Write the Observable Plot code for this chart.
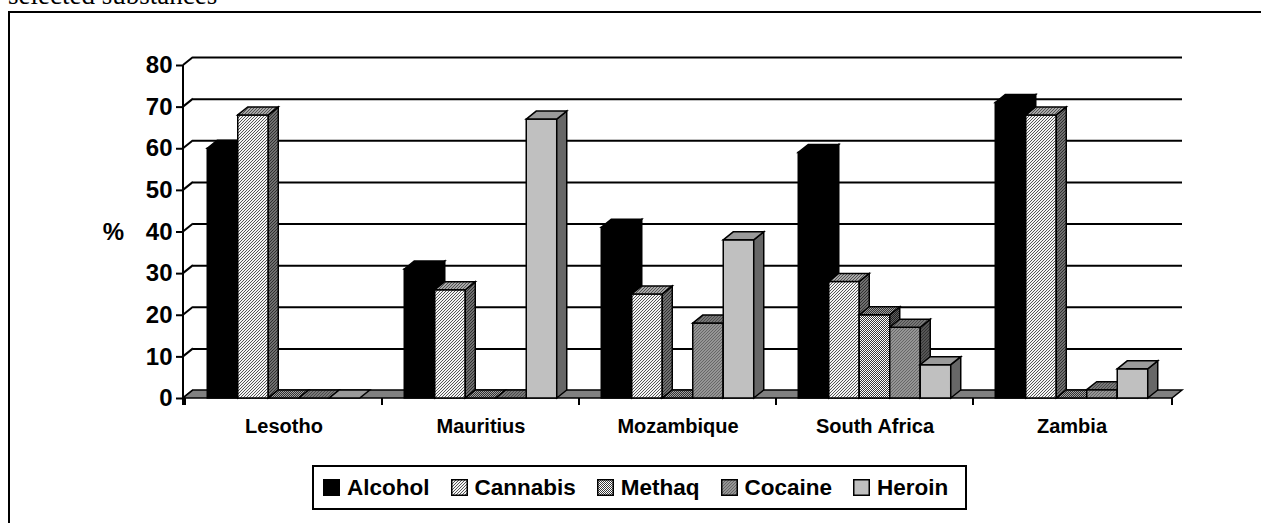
<!DOCTYPE html>
<html><head><meta charset="utf-8">
<script src="https://cdn.jsdelivr.net/npm/d3@7"></script>
<script src="https://cdn.jsdelivr.net/npm/@observablehq/plot@0.6"></script>
<style>
html,body{margin:0;padding:0;background:#fff;overflow:hidden;width:1261px;height:523px;position:relative;}
#title{position:absolute;left:8px;top:-18px;font-family:"Liberation Serif","Times New Roman",serif;font-size:27px;line-height:27px;white-space:nowrap;color:#000;}
#box{position:absolute;left:8px;top:11px;width:1300px;height:600px;border:2px solid #000;}
#chart svg{display:block;}
#legend{position:absolute;left:302px;top:452px;width:655px;height:45px;box-sizing:border-box;border:2px solid #000;display:flex;align-items:center;padding-left:9px;gap:21px;font-family:"Liberation Sans",Arial,sans-serif;font-weight:bold;font-size:22.5px;color:#000;white-space:nowrap;}
#legend .item{display:flex;align-items:center;}
#legend svg{margin-right:7px;display:block;}
</style></head>
<body>
<svg width="0" height="0" style="position:absolute;left:0;top:0">
<defs>
  <pattern id="can-front" width="3" height="3" patternUnits="userSpaceOnUse">
    <rect width="3" height="3" fill="#f4f4f4"/>
    <path d="M-1,1 l2,-2 M0,3 l3,-3 M2,4 l2,-2" stroke="#555555" stroke-width="1"/>
  </pattern>
  <pattern id="can-top" width="3" height="3" patternUnits="userSpaceOnUse">
    <rect width="3" height="3" fill="#a8a8a8"/>
    <path d="M-1,1 l2,-2 M0,3 l3,-3 M2,4 l2,-2" stroke="#505050" stroke-width="1"/>
  </pattern>
  <pattern id="can-side" width="3" height="3" patternUnits="userSpaceOnUse">
    <rect width="3" height="3" fill="#707070"/>
    <path d="M-1,1 l2,-2 M0,3 l3,-3 M2,4 l2,-2" stroke="#303030" stroke-width="1"/>
  </pattern>
  <pattern id="met-front" width="2" height="2" patternUnits="userSpaceOnUse">
    <rect width="2" height="2" fill="#ffffff"/>
    <rect width="1" height="1" fill="#3a3a3a"/>
    <rect x="1" y="1" width="1" height="1" fill="#3a3a3a"/>
  </pattern>
  <pattern id="met-top" width="2" height="2" patternUnits="userSpaceOnUse">
    <rect width="2" height="2" fill="#a0a0a0"/>
    <rect width="1" height="1" fill="#303030"/>
    <rect x="1" y="1" width="1" height="1" fill="#303030"/>
  </pattern>
  <pattern id="met-side" width="2" height="2" patternUnits="userSpaceOnUse">
    <rect width="2" height="2" fill="#606060"/>
    <rect width="1" height="1" fill="#202020"/>
    <rect x="1" y="1" width="1" height="1" fill="#202020"/>
  </pattern>
  <pattern id="coc-front" width="3" height="3" patternUnits="userSpaceOnUse">
    <rect width="3" height="3" fill="#959595"/>
    <path d="M-1,1 l2,-2 M0,3 l3,-3 M2,4 l2,-2" stroke="#666666" stroke-width="1"/>
  </pattern>
  <pattern id="coc-top" width="3" height="3" patternUnits="userSpaceOnUse">
    <rect width="3" height="3" fill="#777777"/>
    <path d="M-1,1 l2,-2 M0,3 l3,-3 M2,4 l2,-2" stroke="#4a4a4a" stroke-width="1"/>
  </pattern>
  <pattern id="coc-side" width="3" height="3" patternUnits="userSpaceOnUse">
    <rect width="3" height="3" fill="#555555"/>
    <path d="M-1,1 l2,-2 M0,3 l3,-3 M2,4 l2,-2" stroke="#333333" stroke-width="1"/>
  </pattern>
</defs>
</svg>
<div id="title">selected substances</div>
<div id="box">
  <div id="chart"></div>
  <div id="legend"></div>
</div>
<script>
// ---- data ----
const categories = ["Lesotho", "Mauritius", "Mozambique", "South Africa", "Zambia"];
const series = ["Alcohol", "Cannabis", "Methaq", "Cocaine", "Heroin"];
const alcohol  = [60, 31, 41, 59, 71];
const cannabis = [68, 26, 25, 28, 68];
const methaq   = [0, 0, 0, 20, 0];
const cocaine  = [0, 0, 18, 17, 2];
const heroin   = [0, 67, 38, 8, 7];
const yTicks = [0, 10, 20, 30, 40, 50, 60, 70, 80];
const axisLabel = "%";

// ---- styles ----
const faces = {
  Alcohol:  {front: "#000000", top: "#000000", side: "#000000"},
  Cannabis: {front: "url(#can-front)", top: "url(#can-top)", side: "url(#can-side)"},
  Methaq:   {front: "url(#met-front)", top: "url(#met-top)", side: "url(#met-side)"},
  Cocaine:  {front: "url(#coc-front)", top: "url(#coc-top)", side: "url(#coc-side)"},
  Heroin:   {front: "#c0c0c0", top: "#9a9a9a", side: "#676767"}
};
const DX = 10, DY = 8; // 3D depth offset

const seriesValues = [alcohol, cannabis, methaq, cocaine, heroin];
const table = [];
categories.forEach((c, ci) => series.forEach((s, si) => table.push({category: c, series: s, value: seriesValues[si][ci]})));

function chart3d(index, scales, values, dims) {
  const x = scales.x, y = scales.y;
  const bw = typeof x.bandwidth === "function" ? x.bandwidth() : scales.scales.x.bandwidth;
  const sub = d3.scaleBand().domain(series).range([0, bw]).paddingInner(0).paddingOuter(0.73);
  const w = sub.bandwidth();
  const x0 = dims.marginLeft, x1 = dims.width - dims.marginRight;
  const y0 = y(0);
  const g = d3.create("svg:g").attr("stroke", "#000").attr("stroke-linejoin", "miter");
  // left wall diagonals
  g.append("g").selectAll("line").data(yTicks).join("line")
    .attr("x1", x0).attr("y1", d => y(d)).attr("x2", x0 + DX).attr("y2", d => y(d) - DY)
    .attr("stroke-width", 2);
  // floor
  g.append("polygon")
    .attr("points", [[x0, y0], [x0 + DX, y0 - DY], [x1 + DX, y0 - DY], [x1, y0]].map(p => p.join(",")).join(" "))
    .attr("fill", "#808080").attr("stroke-width", 1.5);
  // bars
  const bars = g.append("g").attr("stroke-width", 1.5);
  for (const d of table) {
    const bx = x(d.category) + sub(d.series);
    const top = y(d.value);
    const f = faces[d.series];
    if (d.value > 0) {
      bars.append("rect").attr("x", bx).attr("y", top).attr("width", w).attr("height", y0 - top).attr("fill", f.front);
      bars.append("polygon")
        .attr("points", [[bx + w, y0], [bx + w + DX, y0 - DY], [bx + w + DX, top - DY], [bx + w, top]].map(p => p.join(",")).join(" "))
        .attr("fill", f.side);
    }
    bars.append("polygon")
      .attr("points", [[bx, top], [bx + DX, top - DY], [bx + w + DX, top - DY], [bx + w, top]].map(p => p.join(",")).join(" "))
      .attr("fill", f.top);
  }
  // front value axis line
  g.append("line").attr("x1", x0).attr("x2", x0).attr("y1", y(yTicks[yTicks.length - 1])).attr("y2", y0 + 7).attr("stroke-width", 2);
  // category boundary ticks
  const bounds = categories.map(c => x(c)).concat([x1]);
  g.append("g").selectAll("line").data(bounds).join("line")
    .attr("x1", d => d).attr("x2", d => d).attr("y1", y0).attr("y2", y0 + 7).attr("stroke-width", 2);
  return g.node();
}

const plot = Plot.plot({
  width: 1251,
  height: 440,
  marginLeft: 173,
  marginRight: 89,
  marginTop: 52,
  marginBottom: 55,
  style: {fontFamily: "'Liberation Sans', Arial, sans-serif", fontWeight: "bold", color: "#000", background: "#fff", overflow: "visible"},
  x: {type: "band", domain: categories, padding: 0},
  y: {domain: [0, 80]},
  marks: [
    Plot.ruleY(yTicks.slice(1), {dx: DX, dy: -DY, stroke: "#000", strokeWidth: 2}),
    chart3d,
    Plot.axisY({ticks: yTicks, tickSize: 7, tickPadding: 4, strokeWidth: 2, fontSize: 24, fontWeight: "bold", label: null, tickFormat: d => String(d)}),
    Plot.axisX({tickSize: 0, tickPadding: 20, fontSize: 20, fontWeight: "bold", label: null}),
    Plot.text([axisLabel], {y: [40], text: d => d, frameAnchor: "left", dx: -70, textAnchor: "middle", fontSize: 24, fontWeight: "bold"})
  ]
});
document.getElementById("chart").appendChild(plot);

// legend
const legend = d3.select("#legend");
series.forEach(s => {
  const item = legend.append("div").attr("class", "item");
  const sw = item.append("svg").attr("width", 17).attr("height", 17);
  sw.append("rect").attr("x", 0.75).attr("y", 0.75).attr("width", 15.5).attr("height", 15.5)
    .attr("fill", faces[s].front).attr("stroke", "#000").attr("stroke-width", 1.5);
  item.append("span").text(s);
});
</script>
</body></html>
